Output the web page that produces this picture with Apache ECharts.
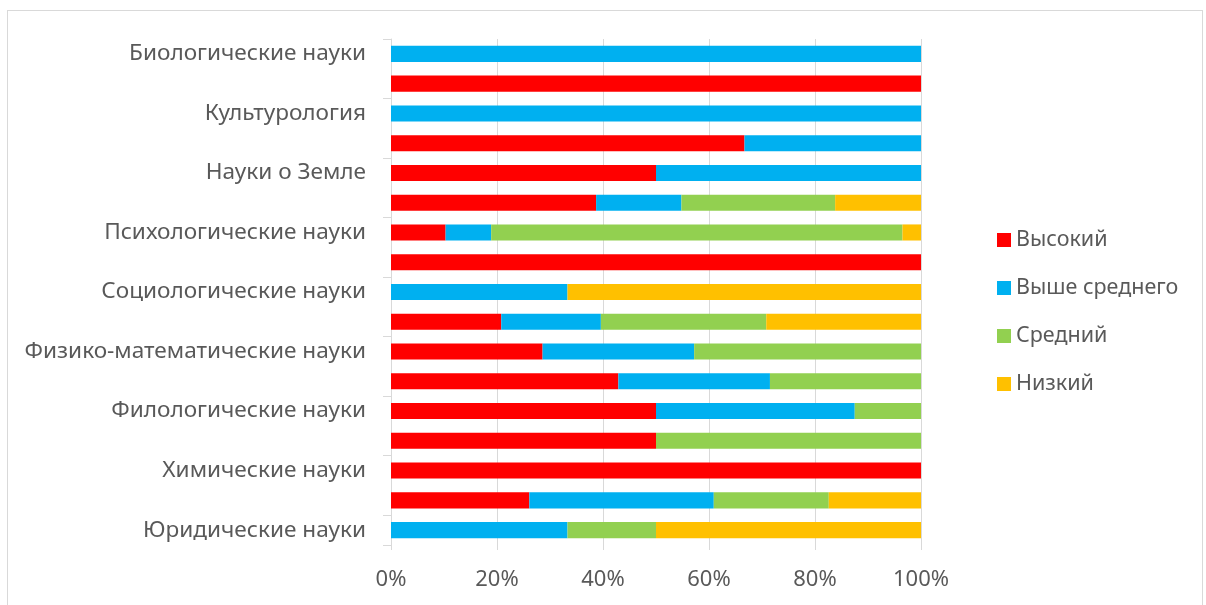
<!DOCTYPE html>
<html>
<head>
<meta charset="utf-8">
<script src="https://cdn.jsdelivr.net/npm/echarts@6/dist/echarts.min.js"></script>
<style>
  html, body { margin: 0; padding: 0; background: #fff; }
  #frame { position: absolute; left: 7px; top: 10px; width: 1196px; height: 600px; border: 1px solid #d9d9d9; box-sizing: border-box; }
  #chart { position: absolute; left: 0; top: 0; width: 1206px; height: 605px; }
</style>
</head>
<body>
<div id="frame"></div>
<div id="chart"></div>
<script>
// categories, top to bottom
const categories = [
  'Биологические науки', 'Исторические науки', 'Культурология', 'Медицинские науки',
  'Науки о Земле', 'Педагогические науки', 'Психологические науки', 'Сельскохозяйственные науки',
  'Социологические науки', 'Технические науки', 'Физико-математические науки', 'Физическая культура',
  'Филологические науки', 'Философские науки', 'Химические науки', 'Экономические науки',
  'Юридические науки'
]
const seriesNames = ['Высокий', 'Выше среднего', 'Средний', 'Низкий']
const colors = ['#FF0000', '#00B0F0', '#92D050', '#FFC000']

// shares, %
const high     = [0, 100, 0, 66.7, 50, 38.7, 10.3, 100, 0, 20.8, 28.6, 42.9, 50, 50, 100, 26.1, 0]
const aboveMid = [100, 0, 100, 33.3, 50, 16.1, 8.6, 0, 33.3, 18.8, 28.6, 28.6, 37.5, 0, 0, 34.8, 33.3]
const mid      = [0, 0, 0, 0, 0, 29.0, 77.6, 0, 0, 31.2, 42.8, 28.5, 12.5, 50, 0, 21.7, 16.7]
const low      = [0, 0, 0, 0, 0, 16.2, 3.5, 0, 66.7, 29.2, 0, 0, 0, 0, 0, 17.4, 50]

const xTicks = [0, 20, 40, 60, 80, 100]

const chart = echarts.init(document.getElementById('chart'))
const font = '"Noto Sans", "Open Sans", sans-serif'
const textColor = '#595959'

chart.setOption({
  animation: false,
  textStyle: { fontFamily: font },
  grid: { left: 391, right: 285, top: 39, bottom: 60 },
  legend: {
    orient: 'vertical',
    left: 992,
    top: 224,
    itemWidth: 14,
    itemHeight: 14,
    itemGap: 26,
    itemStyle: { borderWidth: 0 },
    icon: 'rect',
    textStyle: { color: textColor, fontSize: 21.5, fontFamily: font },
    data: seriesNames
  },
  xAxis: {
    type: 'value',
    min: xTicks[0],
    max: xTicks[xTicks.length - 1],
    interval: 20,
    axisLine: { show: false },
    axisTick: { show: true, length: 5, lineStyle: { color: '#d9d9d9' } },
    splitLine: { show: true, lineStyle: { color: '#d9d9d9', width: 1 } },
    axisLabel: { color: textColor, fontSize: 22, margin: 24, formatter: v => v + '%' }
  },
  yAxis: {
    type: 'category',
    inverse: true,
    data: categories,
    axisLine: { show: true, lineStyle: { color: '#d9d9d9' } },
    axisTick: { show: true, length: 8, inside: false, lineStyle: { color: '#d9d9d9' } },
    axisLabel: { color: textColor, fontSize: 22.6, margin: 25, interval: 1 }
  },
  series: [high, aboveMid, mid, low].map((d, i) => ({
    name: seriesNames[i],
    type: 'bar',
    stack: 'total',
    barWidth: '54%',
    itemStyle: { color: colors[i] },
    data: d
  }))
})
</script>
</body>
</html>
